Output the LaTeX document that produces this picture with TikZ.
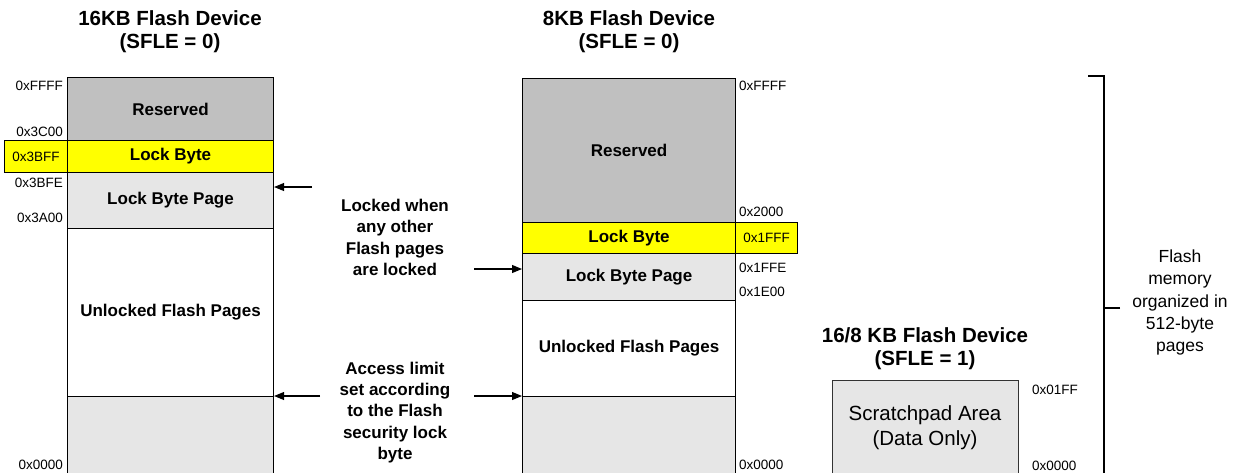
\documentclass[tikz,border=0pt]{standalone}
\usepackage{fontspec}
\setmainfont{Liberation Sans}
\usetikzlibrary{arrows.meta}
\definecolor{resgray}{HTML}{C0C0C0}
\definecolor{pagegray}{HTML}{E6E6E6}
\definecolor{lockyellow}{HTML}{FFFF00}
\begin{document}
\begin{tikzpicture}[x=1pt,y=-1pt,
  seg/.style={draw=black, line width=1.1pt, inner sep=0pt, anchor=north west,
              font=\bfseries\fontsize{17}{20}\selectfont},
  hexl/.style={inner sep=0pt, font=\fontsize{13.5}{16}\selectfont},
  title/.style={align=center, inner sep=0pt, font=\bfseries\fontsize{20.5}{23}\selectfont},
  note/.style={align=center, inner sep=0pt, font=\bfseries\fontsize{17}{21.2}\selectfont},
  arr/.style={line width=1.1pt, -{Triangle[length=10pt,width=8pt]}},
  plain/.style={line width=1.1pt}]
\clip (0,0) rectangle (1237,472);
\fill[white] (0,0) rectangle (1237,472);

% titles
\node[title] (t1) at (170,31.5) {16KB Flash Device\\(SFLE = 0)};
\node[title] (t2) at (629,31.5) {8KB Flash Device\\(SFLE = 0)};
\node[title] (t3) at (925,348.5) {16/8 KB Flash Device\\(SFLE = 1)};

% 16KB column
\node[seg, fill=resgray, minimum width=206pt, minimum height=63pt] (res1) at (67,77) {Reserved};
\node[seg, fill=lockyellow, minimum width=206pt, minimum height=32pt] (lb1) at (67,140) {Lock Byte};
\node[seg, fill=lockyellow, minimum width=63pt, minimum height=32pt, font=\fontsize{13.5}{16}\selectfont] (lbl1) at (4,140) {0x3BFF};
\node[seg, fill=pagegray, minimum width=206pt, minimum height=56pt] (lbp1) at (67,172) {Lock Byte Page};
\node[seg, fill=white, minimum width=206pt, minimum height=168pt] (unl1) at (67,228) {Unlocked Flash Pages};
\node[seg, fill=pagegray, minimum width=206pt, minimum height=90pt] (bot1) at (67,396) {};

\node[hexl, anchor=east] (h1a) at (63,86) {0xFFFF};
\node[hexl, anchor=east] (h1b) at (63,132) {0x3C00};
\node[hexl, anchor=east] (h1c) at (63,183) {0x3BFE};
\node[hexl, anchor=east] (h1d) at (63,218) {0x3A00};
\node[hexl, anchor=east] (h1e) at (63,465) {0x0000};

% 8KB column
\node[seg, fill=resgray, minimum width=213pt, minimum height=144pt] (res2) at (522,78) {Reserved};
\node[seg, fill=lockyellow, minimum width=213pt, minimum height=31pt] (lb2) at (522,222) {Lock Byte};
\node[seg, fill=lockyellow, minimum width=62pt, minimum height=31pt, font=\fontsize{13.5}{16}\selectfont] (lbl2) at (735,222) {0x1FFF};
\node[seg, fill=pagegray, minimum width=213pt, minimum height=47pt] (lbp2) at (522,253) {Lock Byte Page};
\node[seg, fill=white, minimum width=213pt, minimum height=96pt] (unl2) at (522,300) {Unlocked Flash Pages};
\node[seg, fill=pagegray, minimum width=213pt, minimum height=90pt] (bot2) at (522,396) {};

\node[hexl, anchor=west] (h2a) at (739,86) {0xFFFF};
\node[hexl, anchor=west] (h2b) at (739,212) {0x2000};
\node[hexl, anchor=west] (h2c) at (739,268) {0x1FFE};
\node[hexl, anchor=west] (h2d) at (739,292) {0x1E00};
\node[hexl, anchor=west] (h2e) at (739,465) {0x0000};

% notes and arrows
\node[note] (n1) at (395,237.5) {Locked when\\any other\\Flash pages\\are locked};
\node[note] (n2) at (395,412.5) {Access limit\\set according\\to the Flash\\security lock\\byte};

\coordinate (a1) at (312,187);
\coordinate (a2) at (474,269);
\coordinate (a3) at (320,396);
\coordinate (a4) at (474,396);
\draw[arr] (a1) -- (a1 -| lbp1.east);
\draw[arr] (a2) -- (a2 -| lbp2.west);
\draw[arr] (a3) -- (a3 -| bot1.east);
\draw[arr] (a4) -- (a4 -| bot2.west);

% scratchpad
\node[seg, draw=black!80, fill=pagegray, minimum width=186pt, minimum height=110pt] (scr) at (832,380) {};
\node[align=center, inner sep=0pt, font=\fontsize{20.5}{25}\selectfont] (scrt) at (925,427.5) {Scratchpad Area\\(Data Only)};
\node[hexl, anchor=west] (h3a) at (1032,390) {0x01FF};
\node[hexl, anchor=west] (h3b) at (1032,466) {0x0000};

% bracket
\coordinate (brT) at (1088,76);
\coordinate (brV) at (1104,76);
\coordinate (brB) at (1104,490);
\draw[plain] (brT) -- (brV) -- (brB);
\coordinate (tk) at (1120,308);
\draw[plain] (tk) -- (tk -| brV);
\node[align=center, inner sep=0pt, font=\fontsize{17.5}{22.3}\selectfont] (fm) at (1180,302.5) {Flash\\memory\\organized in\\512-byte\\pages};
\end{tikzpicture}
\end{document}
